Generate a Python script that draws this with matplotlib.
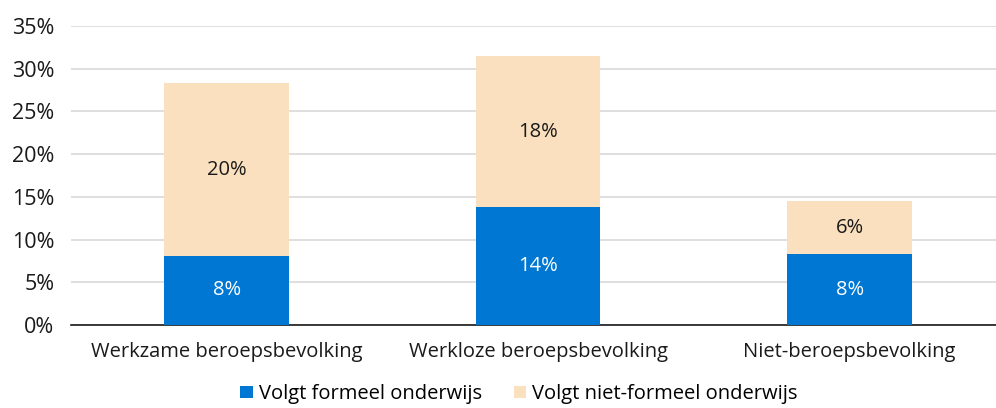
import numpy as np
import matplotlib.pyplot as plt
from matplotlib.ticker import PercentFormatter

plt.rcParams['font.family'] = ['Open Sans', 'DejaVu Sans']

categories = ['Werkzame beroepsbevolking', 'Werkloze beroepsbevolking', 'Niet-beroepsbevolking']
formeel = [8.1, 13.8, 8.3]
niet_formeel = [20.2, 17.7, 6.2]
series_names = ['Volgt formeel onderwijs', 'Volgt niet-formeel onderwijs']

blue = '#0077d2'
beige = '#fae0be'

fig = plt.figure(figsize=(9.96, 4.08), dpi=100)
ax = fig.add_axes([71 / 996, 1 - 325 / 408, 925 / 996, (325 - 26) / 408])

x = np.arange(len(categories))
w = 0.4
b1 = ax.bar(x, formeel, w, color=blue, label=series_names[0], zorder=3)
b2 = ax.bar(x, niet_formeel, w, bottom=formeel, color=beige, label=series_names[1], zorder=3)

for i in range(len(x)):
    ax.text(x[i], formeel[i] / 2, f'{round(formeel[i])}%', ha='center', va='center',
            color='white', fontsize=14.5, zorder=4)
    ax.text(x[i], formeel[i] + niet_formeel[i] / 2, f'{round(niet_formeel[i])}%', ha='center',
            va='center', color='#1a1a1a', fontsize=14.5, zorder=4)

ax.set_ylim(0, 35)
ax.set_xlim(-0.5, 2.47)
ax.set_yticks(np.arange(0, 36, 5))
ax.yaxis.set_major_formatter(PercentFormatter(decimals=0))
ax.set_xticks(x)
ax.set_xticklabels(categories)
ax.tick_params(axis='both', length=0, labelsize=14.5, colors='#1a1a1a')
ax.tick_params(axis='y', labelsize=15.5, pad=12)
ax.tick_params(axis='x', pad=12)
ax.grid(axis='y', color='#d9d9d9', linewidth=1.2, zorder=0)
for s in ['top', 'right', 'left']:
    ax.spines[s].set_visible(False)
ax.spines['bottom'].set_color('#1a1a1a')
ax.spines['bottom'].set_linewidth(1.2)

# legend sits right at the bottom edge, like the original
fig.legend(handles=[b1, b2], loc='center', bbox_to_anchor=(519 / 996, 1 - 394 / 408), ncol=2,
           frameon=False, fontsize=14.5, handlelength=0.6, handleheight=0.6, handletextpad=0.3,
           columnspacing=1.6, borderpad=0.1)

fig.savefig('out.png', dpi=100)
